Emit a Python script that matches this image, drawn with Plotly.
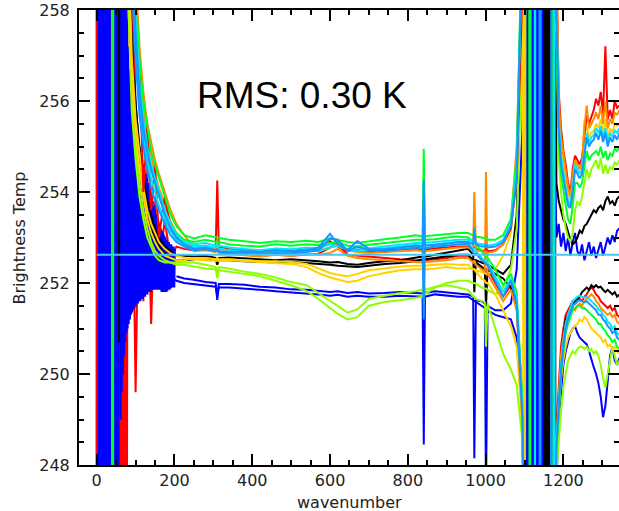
import plotly.graph_objects as go

# ---------------------------------------------------------------------------
# Wavenumber grids shared by the spectra
# ---------------------------------------------------------------------------
MID_WN = [80, 90, 100, 110, 120, 130, 140, 150, 160, 175, 190, 205, 225,
          250, 280, 306, 310, 314, 340, 380, 420, 460, 500, 540, 570, 600, 620,
          645, 670, 700, 740, 780, 820, 838, 841, 844, 870, 900, 930,
          955, 968, 971, 975, 990, 998, 1001, 1005, 1025, 1045, 1065, 1080, 1095]
TAIL_WN = [1182, 1188, 1194, 1200, 1206, 1212, 1218, 1224, 1230, 1236, 1242,
           1248, 1254, 1260, 1266, 1272, 1278, 1284, 1290, 1296, 1302, 1308,
           1314, 1320, 1326, 1332, 1338, 1344]

# Reference brightness temperature (horizontal line)
REF_WN = [0, 1345]
REF_T = [252.62, 252.62]

# ---------------------------------------------------------------------------
# Brightness temperature spectra (K)
# ---------------------------------------------------------------------------
RED_A_LEFT_WN = [-0.5, 0.0, 0.5]
RED_A_LEFT_T = [264, 244, 264]
RED_A_T = [262.0, 258.5, 256.5, 257.0, 254.0, 255.5, 253.6, 254.6, 253.0, 253.9, 253.2, 253.0, 252.85,
           252.8, 252.82, 252.75, 254.25, 252.78, 252.75, 252.72, 252.7, 252.72, 252.7, 252.74, 252.72, 252.92,
           252.8, 252.7, 252.72, 252.7, 252.72, 252.74, 252.76, 252.74, 252.9, 252.74, 252.76, 252.78, 252.8,
           252.8, 252.78, 252.78, 252.75, 252.72, 252.7, 252.75, 252.7, 252.72, 252.85, 253.2, 254.3, 258.6]
RED_A_BURST_WN = [1100]
RED_A_BURST_T = [262]
RED_A_TAIL = [259.0, 256.2, 255.4, 254.9, 254.6, 254.2, 254.0, 254.5, 254.8, 254.7, 254.6, 254.75, 255.2, 255.7,
              255.5, 255.65, 255.8, 256.05, 255.9, 256.2, 255.7, 257.2, 255.6, 255.8, 255.6, 256.0, 255.85, 255.9]

RED_B_LEFT_WN = [55, 56.5, 58, 59.5, 61, 62.5, 64, 65.5, 67, 68.5, 70, 71.5, 73, 74.5, 76, 77.5, 79]
RED_B_LEFT_T = [264, 244, 264, 244, 264, 244, 264, 244, 264, 244, 264, 244, 264, 244, 264, 244, 264]
RED_B_T = [262.5, 256.0, 249.6, 255.0, 251.6, 254.5, 251.1, 253.9, 252.2, 253.4, 252.5, 252.8, 252.75,
           252.72, 252.75, 252.7, 252.9, 252.68, 252.65, 252.62, 252.6, 252.62, 252.6, 252.62, 252.64, 252.78,
           252.85, 252.62, 252.6, 252.58, 252.55, 252.52, 252.5, 252.5, 252.6, 252.5, 252.52, 252.55, 252.6,
           252.6, 252.5, 252.5, 252.45, 252.35, 252.3, 252.3, 252.3, 252.0, 251.7, 251.95, 251.5, 249.0]
RED_B_BURST_WN = [1100]
RED_B_BURST_T = [244]
RED_B_TAIL = [248.8, 249.8, 250.6, 251.0, 251.3, 251.4, 251.5, 251.6, 251.55, 251.6, 251.65, 251.6, 251.7, 251.75,
              251.85, 251.9, 251.85, 251.75, 251.7, 251.6, 251.55, 251.5, 251.45, 251.5, 251.4, 251.45, 251.3, 251.25]

ORANGE_A_LEFT_WN = [39.0, 39.6, 40.2]
ORANGE_A_LEFT_T = [264, 244, 264]
ORANGE_A_T = [264.0, 261.0, 258.8, 257.2, 256.2, 255.5, 255.1, 254.7, 254.4, 254.0, 253.6, 253.3, 253.05,
              252.78, 252.8, 252.74, 252.95, 252.74, 252.72, 252.7, 252.66, 252.7, 252.68, 252.72, 252.7, 252.78,
              252.88, 252.72, 252.68, 252.66, 252.68, 252.7, 252.72, 252.7, 252.75, 252.7, 252.72, 252.75, 252.78,
              252.78, 252.75, 254.0, 252.72, 252.7, 252.68, 252.7, 252.66, 252.7, 252.85, 253.3, 255.0, 259.5]
ORANGE_A_BURST_WN = [1100]
ORANGE_A_BURST_T = [262]
ORANGE_A_TAIL = [259.5, 256.0, 255.2, 254.8, 254.5, 254.1, 253.9, 254.4, 254.7, 254.6, 254.5, 254.65, 255.4, 255.9,
                 255.4, 255.5, 255.6, 255.75, 255.6, 255.9, 255.5, 256.0, 255.4, 255.6, 255.5, 255.75, 255.7, 255.8]

ORANGE_B_T = [263.0, 260.0, 258.0, 256.6, 255.8, 255.2, 254.8, 254.4, 254.1, 253.7, 253.35, 253.1, 252.9,
              252.7, 252.72, 252.68, 252.8, 252.66, 252.64, 252.6, 252.58, 252.62, 252.6, 252.64, 252.62, 252.66,
              252.75, 252.6, 252.55, 252.52, 252.5, 252.48, 252.46, 252.45, 252.5, 252.46, 252.48, 252.5, 252.55,
              252.55, 252.45, 252.5, 252.4, 252.3, 252.25, 254.44, 252.2, 251.9, 251.6, 251.85, 251.4, 248.8]
ORANGE_B_BURST_WN = [1100]
ORANGE_B_BURST_T = [244]
ORANGE_B_TAIL = [248.6, 249.6, 250.4, 250.8, 251.1, 251.25, 251.35, 251.45, 251.4, 251.5, 251.55, 251.5, 251.6, 251.65,
                 251.7, 251.75, 251.7, 251.6, 251.55, 251.45, 251.4, 251.35, 251.3, 251.35, 251.25, 251.3, 251.15, 251.1]

YELLOW_A_T = [260.0, 257.0, 255.6, 254.8, 254.1, 253.6, 253.3, 253.1, 252.9, 252.75, 252.65, 252.6, 252.55,
              252.52, 252.5, 252.48, 252.5, 252.48, 252.5, 252.48, 252.45, 252.44, 252.42, 252.35, 252.22, 252.12,
              252.08, 252.02, 252.05, 252.15, 252.22, 252.28, 252.3, 252.3, 252.35, 252.3, 252.32, 252.35, 252.32,
              252.32, 252.3, 252.3, 252.28, 252.25, 252.22, 252.2, 252.2, 252.3, 252.6, 253.1, 254.6, 259.5]
YELLOW_A_BURST_WN = [1098, 1099, 1100]
YELLOW_A_BURST_T = [244, 262, 262]
YELLOW_A_TAIL = [259.0, 255.8, 255.0, 254.6, 254.3, 254.0, 253.8, 254.2, 254.6, 254.5, 254.4, 254.5, 255.6, 255.4,
                 255.2, 255.3, 255.35, 255.5, 255.4, 255.6, 255.3, 255.6, 255.2, 255.4, 255.3, 255.5, 255.45, 255.5]

YELLOW_B_T = [259.5, 256.6, 255.3, 254.5, 253.9, 253.4, 253.1, 252.9, 252.75, 252.6, 252.55, 252.5, 252.5,
              252.55, 252.55, 252.52, 252.55, 252.52, 252.52, 252.5, 252.48, 252.48, 252.46, 252.42, 252.32, 252.22,
              252.18, 252.15, 252.2, 252.28, 252.32, 252.36, 252.38, 252.38, 252.42, 252.38, 252.4, 252.42, 252.4,
              252.4, 252.3, 252.3, 252.25, 252.1, 252.05, 252.0, 252.0, 251.75, 251.4, 251.05, 250.6, 248.8]
YELLOW_B_BURST_WN = [1100]
YELLOW_B_BURST_T = [244]
YELLOW_B_TAIL = [248.2, 249.2, 249.9, 250.3, 250.6, 250.8, 250.9, 251.0, 251.05, 251.1, 251.2, 251.15, 251.25, 251.2,
                 251.1, 251.0, 250.95, 250.9, 250.85, 250.8, 250.7, 250.75, 250.6, 250.65, 250.55, 250.6, 250.5, 250.45]

LIME_A_T = [259.0, 256.2, 255.0, 254.2, 253.6, 253.2, 252.9, 252.7, 252.6, 252.5, 252.45, 252.4, 252.4,
            252.36, 252.32, 252.3, 252.1, 252.28, 252.25, 252.2, 252.15, 252.05, 251.95, 251.82, 251.65, 251.45,
            251.32, 251.2, 251.25, 251.5, 251.58, 251.62, 251.68, 251.7, 251.9, 251.75, 251.9, 252.0, 252.05,
            252.05, 252.0, 252.0, 251.98, 251.9, 251.88, 251.88, 251.85, 251.75, 251.9, 252.3, 253.2, 257.5]
LIME_A_BURST_WN = [1101, 1102, 1103]
LIME_A_BURST_T = [244, 262, 262]
LIME_A_TAIL = [257.5, 254.8, 254.0, 253.5, 253.2, 253.0, 252.9, 253.1, 253.6, 253.8, 253.7, 253.9, 254.2, 254.5,
               254.3, 254.5, 254.6, 254.7, 254.5, 254.75, 254.4, 254.6, 254.4, 254.55, 254.5, 254.65, 254.6, 254.7]

LIME_B_T = [258.5, 255.8, 254.7, 253.9, 253.4, 253.0, 252.8, 252.6, 252.5, 252.45, 252.45, 252.45, 252.45,
            252.45, 252.4, 252.35, 252.2, 252.35, 252.32, 252.25, 252.2, 252.12, 252.02, 251.95, 251.78, 251.6,
            251.48, 251.35, 251.42, 251.65, 251.72, 251.78, 251.82, 251.85, 252.0, 251.85, 251.92, 251.95, 251.9,
            251.85, 251.7, 251.7, 251.65, 251.6, 251.58, 250.6, 251.55, 251.0, 250.45, 250.1, 249.75, 248.5]
LIME_B_BURST_WN = [1100]
LIME_B_BURST_T = [244]
LIME_B_TAIL = [247.8, 248.6, 249.2, 249.7, 250.0, 250.3, 250.4, 250.5, 250.45, 250.55, 250.6, 250.6, 250.55, 250.6,
               250.5, 250.55, 250.45, 250.5, 250.4, 250.2, 249.9, 249.7, 250.0, 250.3, 250.6, 250.4, 250.2, 250.3]

GREEN_A_T = [263.5, 260.5, 258.4, 256.9, 256.0, 255.4, 254.9, 254.6, 254.3, 253.9, 253.5, 253.25, 253.05,
             252.98, 253.05, 253.0, 253.0, 253.0, 252.95, 252.92, 252.88, 252.92, 252.9, 252.93, 252.9, 252.98,
             252.95, 252.9, 252.88, 252.92, 252.96, 253.0, 253.05, 253.02, 254.95, 253.03, 253.05, 253.08, 253.1,
             253.1, 253.05, 253.05, 253.02, 253.0, 252.98, 252.98, 252.95, 252.95, 253.05, 253.4, 254.8, 259.0]
GREEN_A_BURST_WN = [1100, 1112, 1113, 1114, 1115, 1116]
GREEN_A_BURST_T = [262, 262, 244, 262, 244, 262]
GREEN_A_TAIL = [258.0, 255.2, 254.4, 254.0, 253.7, 253.4, 253.3, 253.7, 254.2, 254.2, 254.1, 254.2, 254.6, 254.9,
                254.7, 254.8, 254.85, 254.9, 254.8, 255.0, 254.75, 254.9, 254.7, 254.85, 254.8, 254.95, 254.9, 255.0]

GREEN_B_LEFT_WN = [41.5, 42.1, 42.7]
GREEN_B_LEFT_T = [264, 244, 264]
GREEN_B_T = [262.0, 259.5, 257.5, 256.2, 255.5, 254.9, 254.5, 254.2, 253.9, 253.6, 253.3, 253.1, 252.95,
             252.9, 252.95, 252.9, 252.92, 252.9, 252.85, 252.82, 252.8, 252.85, 252.82, 252.85, 252.83, 252.88,
             252.9, 252.82, 252.8, 252.84, 252.88, 252.92, 252.95, 252.95, 253.3, 252.95, 252.96, 253.0, 253.02,
             253.0, 252.9, 252.9, 252.85, 252.7, 252.6, 252.6, 252.55, 252.3, 251.95, 252.2, 251.8, 249.3]
GREEN_B_BURST_WN = [1100, 1172, 1173, 1174]
GREEN_B_BURST_T = [244, 244, 262, 244]
GREEN_B_TAIL = [248.3, 249.3, 250.0, 250.5, 250.9, 251.1, 251.25, 251.4, 251.45, 251.5, 251.5, 251.45, 251.45, 251.4,
                251.35, 251.3, 251.25, 251.2, 251.1, 251.1, 251.0, 250.95, 250.85, 250.8, 250.7, 250.75, 250.6, 250.55]

CYAN_A_T = [262.5, 259.8, 257.8, 256.4, 255.6, 255.0, 254.6, 254.3, 254.0, 253.6, 253.3, 253.05, 252.9,
            252.85, 252.88, 252.82, 252.85, 252.82, 252.78, 252.75, 252.72, 252.76, 252.74, 252.78, 252.76, 252.85,
            252.8, 252.75, 252.78, 252.76, 252.8, 252.84, 252.88, 252.88, 253.5, 252.88, 252.9, 252.92, 252.95,
            252.95, 252.9, 252.9, 252.88, 252.85, 252.85, 252.85, 252.82, 252.85, 252.95, 253.3, 254.5, 258.8]
CYAN_A_BURST_WN = [1100, 1126, 1127, 1128]
CYAN_A_BURST_T = [262, 262, 244, 262]
CYAN_A_TAIL = [258.5, 255.6, 254.8, 254.4, 254.1, 253.8, 253.7, 254.1, 254.6, 254.5, 254.4, 254.5, 254.9, 255.3,
               255.1, 255.2, 255.25, 255.4, 255.3, 255.45, 255.2, 255.4, 255.1, 255.3, 255.2, 255.35, 255.3, 255.4]

CYAN_B_T = [261.5, 259.0, 257.2, 255.9, 255.2, 254.7, 254.3, 254.0, 253.7, 253.4, 253.15, 252.95, 252.85,
            252.8, 252.82, 252.78, 252.8, 252.76, 252.72, 252.7, 252.68, 252.7, 252.68, 252.72, 252.7, 252.78,
            252.82, 252.72, 252.7, 252.72, 252.76, 252.8, 252.84, 252.82, 252.6, 252.82, 252.85, 252.88, 252.9,
            252.88, 252.75, 252.75, 252.7, 252.55, 252.5, 252.5, 252.45, 252.15, 251.8, 252.1, 251.65, 249.2]
CYAN_B_BURST_WN = [1100, 1176, 1177, 1178]
CYAN_B_BURST_T = [244, 244, 262, 244]
CYAN_B_TAIL = [248.5, 249.5, 250.2, 250.7, 251.1, 251.3, 251.45, 251.6, 251.65, 251.7, 251.72, 251.7, 251.68, 251.7,
               251.65, 251.6, 251.55, 251.5, 251.42, 251.4, 251.3, 251.25, 251.15, 251.1, 251.0, 251.05, 250.9, 250.85]

LBLUE_A_T = [262.0, 259.5, 257.5, 256.2, 255.4, 254.9, 254.5, 254.2, 253.9, 253.5, 253.2, 253.0, 252.85,
             252.75, 252.78, 252.72, 252.74, 252.7, 252.68, 252.7, 252.68, 252.72, 252.7, 252.72, 252.78, 253.08,
             252.85, 252.72, 252.92, 252.75, 252.74, 252.78, 252.82, 252.8, 254.25, 252.82, 252.84, 252.86, 252.9,
             252.9, 252.85, 253.2, 252.85, 252.8, 252.8, 252.85, 252.78, 252.8, 252.9, 253.25, 254.3, 258.5]
LBLUE_A_BURST_WN = [1100, 1138, 1139, 1140, 1141, 1142]
LBLUE_A_BURST_T = [262, 262, 244, 262, 244, 262]
LBLUE_A_TAIL = [258.0, 255.4, 254.6, 254.3, 254.0, 253.7, 253.65, 254.0, 254.5, 254.4, 254.3, 254.4, 254.8, 255.2,
                255.0, 255.1, 255.15, 255.3, 255.15, 255.35, 255.1, 255.3, 255.0, 255.2, 255.1, 255.25, 255.15, 255.3]

LBLUE_B_T = [261.0, 258.7, 256.9, 255.7, 255.0, 254.5, 254.1, 253.8, 253.6, 253.3, 253.05, 252.9, 252.8,
             252.72, 252.74, 252.7, 252.72, 252.68, 252.65, 252.66, 252.64, 252.66, 252.65, 252.68, 252.72, 252.98,
             252.95, 252.7, 252.8, 252.72, 252.7, 252.74, 252.78, 252.76, 251.2, 252.76, 252.8, 252.82, 252.85,
             252.85, 252.7, 252.6, 252.65, 252.5, 252.45, 252.4, 252.4, 252.05, 251.7, 252.05, 251.55, 249.0]
LBLUE_B_BURST_WN = [1100, 1168, 1169, 1170]
LBLUE_B_BURST_T = [244, 244, 262, 244]
LBLUE_B_TAIL = [248.4, 249.4, 250.1, 250.6, 251.0, 251.2, 251.35, 251.5, 251.55, 251.6, 251.62, 251.6, 251.58, 251.6,
                251.55, 251.5, 251.45, 251.4, 251.3, 251.3, 251.2, 251.15, 251.05, 251.0, 250.9, 250.95, 250.8, 250.75]

BLACK_A_LEFT_WN = [57.0, 57.6, 58.2]
BLACK_A_LEFT_T = [264, 250.7, 264]
BLACK_A_T = [261.0, 257.5, 255.9, 255.0, 254.3, 253.8, 253.5, 253.2, 253.0, 252.8, 252.7, 252.6, 252.6,
             252.58, 252.6, 252.55, 252.5, 252.55, 252.56, 252.54, 252.52, 252.5, 252.52, 252.5, 252.48, 252.45,
             252.46, 252.42, 252.4, 252.44, 252.48, 252.5, 252.55, 252.58, 252.6, 252.58, 252.62, 252.66, 252.7,
             252.75, 252.62, 251.8, 252.5, 252.45, 252.42, 252.4, 252.4, 252.3, 252.2, 252.4, 253.5, 258.5]
BLACK_A_BURST_WN = [1100, 1150, 1152, 1154, 1156, 1158, 1160, 1162, 1164, 1166, 1168, 1170, 1172, 1174, 1176, 1178]
BLACK_A_BURST_T = [262, 262, 244, 262, 244, 262, 244, 262, 244, 262, 244, 262, 244, 262, 244, 262]
BLACK_A_TAIL = [254.2, 253.8, 253.6, 253.4, 253.3, 253.1, 252.95, 252.85, 252.9, 253.0, 253.15, 253.1, 253.25, 253.3,
                253.4, 253.5, 253.6, 253.55, 253.65, 253.7, 253.6, 253.8, 253.9, 253.75, 253.8, 253.7, 253.85, 253.9]

BLACK_B_T = [259.0, 256.5, 255.3, 254.5, 253.9, 253.5, 253.2, 253.0, 252.8, 252.65, 252.55, 252.5, 252.5,
             252.52, 252.55, 252.5, 252.4, 252.5, 252.5, 252.48, 252.46, 252.45, 252.46, 252.44, 252.42, 252.4,
             252.38, 252.36, 252.35, 252.38, 252.42, 252.44, 252.48, 252.52, 252.55, 252.52, 252.55, 252.6, 252.62,
             252.62, 252.5, 252.5, 252.45, 252.35, 252.3, 251.5, 252.28, 252.2, 252.1, 251.9, 251.5, 249.3]
BLACK_B_BURST_WN = [1100, 1156, 1158, 1160, 1162, 1164, 1166, 1168, 1170, 1172, 1174, 1176, 1178, 1180]
BLACK_B_BURST_T = [244, 244, 262, 244, 262, 244, 262, 244, 262, 244, 262, 244, 262, 244]
BLACK_B_TAIL = [248.5, 249.5, 250.3, 250.8, 251.2, 251.3, 251.4, 251.5, 251.6, 251.65, 251.7, 251.8, 251.85, 251.9,
                251.85, 251.95, 251.9, 251.95, 251.9, 251.92, 251.85, 251.8, 251.85, 251.8, 251.75, 251.8, 251.7, 251.75]

BLUE_A_LEFT_WN = [60, 61.5, 63, 64.5, 66, 67.5, 69, 70.5, 72, 73.5, 75, 76.5, 78, 79.5, 81, 82.5, 84, 85.5,
                  87, 88.5, 90, 91.5, 93, 94.5, 96, 97.5, 99, 100.5, 102, 103.5, 105, 106.5, 108, 109.5, 111,
                  112.5, 114, 115.5, 117, 118.5, 120, 121.5, 123, 124.5, 126, 127.5, 129, 130.5, 132, 133.5,
                  135, 136.5, 138, 139.5, 141, 142.5, 144, 145.5, 147, 148.5, 150, 151.5, 153, 154.5, 156,
                  157.5, 159, 160.5, 162, 163.5, 165, 166.5, 168, 169.5, 171, 172.5, 174, 175.5, 177, 178.5,
                  180, 181.5, 183, 184.5, 186, 187.5, 189, 190.5, 192, 193.5, 195, 196.5, 198, 199.5, 201]
BLUE_A_LEFT_T = [264, 249.0, 263, 249.6, 261.5, 250.0, 260.3, 250.4, 259.3, 250.7, 258.5, 250.9, 257.8, 251.0,
                 257.2, 251.1, 256.7, 251.2, 256.3, 251.3, 256.0, 251.35, 255.75, 251.4, 255.55, 251.45, 255.4,
                 251.5, 255.25, 251.55, 255.1, 251.55, 255.0, 251.6, 254.9, 251.6, 254.8, 251.65, 254.7, 251.65,
                 254.6, 251.7, 254.5, 251.7, 254.4, 251.75, 254.3, 251.75, 254.2, 251.8, 254.1, 251.8, 254.0,
                 251.8, 253.9, 251.85, 253.8, 251.85, 253.7, 251.85, 253.6, 251.85, 253.5, 251.85, 253.4, 251.85,
                 253.35, 251.85, 253.3, 251.85, 253.2, 251.8, 253.15, 251.8, 253.1, 251.8, 253.05, 251.8, 253.0,
                 251.8, 252.95, 251.82, 252.9, 251.85, 252.9, 251.85, 252.85, 251.88, 252.85, 251.9, 252.8, 251.9,
                 252.8, 251.9, 252.75]
BLUE_A_T = [None, None, None, None, None, None, None, None, None, None, None, 252.15, 252.1,
            252.07, 252.02, 252.0, 251.63, 251.98, 251.98, 251.96, 251.92, 251.9, 251.86, 251.85, 251.82, 251.8,
            251.82, 251.78, 251.8, 251.77, 251.78, 251.8, 251.78, 251.77, 251.85, 251.78, 251.82, 251.8, 251.78,
            251.75, 251.7, 248.15, 251.62, 251.6, 251.55, 251.55, 251.5, 251.4, 251.4, 251.55, 252.3, 255.5]
BLUE_A_BURST_WN = [1100, 1102, 1104, 1106, 1108, 1110, 1112, 1114, 1116, 1118, 1120, 1122, 1124, 1126, 1128,
                   1130, 1132, 1134, 1136, 1138, 1140, 1142, 1144, 1146, 1148, 1150, 1152, 1154, 1156, 1158,
                   1160, 1162, 1164]
BLUE_A_BURST_T = [262, 244, 262, 244, 262, 244, 262, 244, 262, 244, 262, 244, 262, 244, 262,
                  244, 262, 244, 262, 244, 262, 244, 262, 244, 262, 244, 262, 244, 262, 244,
                  262, 244, 262]
BLUE_A_TAIL = [253.0, 253.3, 252.8, 253.1, 252.7, 253.0, 252.6, 252.9, 253.1, 252.7, 252.6, 252.85, 252.5, 252.7,
               252.9, 252.6, 252.8, 252.55, 252.75, 252.9, 252.6, 252.8, 253.0, 252.85, 253.05, 252.9, 253.15, 253.2]

BLUE_B_LEFT_WN = [0, 2, 4, 6, 8, 10, 12, 14, 16, 18, 20, 22, 24, 26, 28, 30, 32, 34, 36, 38, 40, 42, 44,
                  46, 48, 50, 52, 54, 56, 58]
BLUE_B_LEFT_T = [244, 264, 244, 264, 244, 264, 244, 264, 244, 264, 244, 264, 244, 264, 244, 264, 244, 264,
                 244, 264, 244, 264, 244, 264, 244, 264, 244, 264, 244, 264]
BLUE_B_T = [262.0, 258.0, 256.0, 254.8, 254.0, 253.4, 253.0, 252.7, 252.5, 252.3, 252.15, 252.05, 252.0,
            251.98, 251.95, 251.92, 251.7, 251.9, 251.9, 251.88, 251.85, 251.82, 251.8, 251.78, 251.75, 251.72,
            251.74, 251.7, 251.72, 251.7, 251.7, 251.72, 251.7, 251.7, 248.45, 251.7, 251.75, 251.72, 251.7,
            251.7, 251.62, 251.6, 251.58, 251.5, 251.45, 247.2, 251.4, 251.3, 251.25, 251.2, 250.8, 249.0]
BLUE_B_BURST_WN = [1100, 1102, 1104, 1106, 1108, 1110, 1112, 1114, 1116, 1118, 1120, 1122, 1124, 1126, 1128,
                   1130, 1132, 1134, 1136, 1138, 1140, 1142, 1144, 1146, 1148, 1150, 1152, 1154, 1156, 1158, 1160]
BLUE_B_BURST_T = [244, 262, 244, 262, 244, 262, 244, 262, 244, 262, 244, 262, 244, 262, 244,
                  262, 244, 262, 244, 262, 244, 262, 244, 262, 244, 262, 244, 262, 244, 262, 244]
BLUE_B_TAIL = [247.5, 249.0, 249.6, 250.2, 250.5, 250.7, 250.9, 251.0, 251.05, 250.9, 250.8, 250.75, 250.7, 250.65,
               250.5, 250.3, 250.15, 250.0, 249.8, 249.5, 249.05, 249.3, 249.8, 250.4, 250.6, 250.3, 250.2, 250.35]

RED = "#ff0000"
ORANGE = "#ff8c00"
YELLOW = "#ffd200"
LIME = "#8cff00"
GREEN = "#00ff28"
CYAN = "#00e6ff"
LBLUE = "#1496ff"
BLUE = "#0000ff"
BLACK = "#000000"
REF_COLOR = "#46c8f5"


def spectrum(mid_t, burst_wn, burst_t, tail_t, left_wn=(), left_t=()):
    wn = list(left_wn) + MID_WN + list(burst_wn) + TAIL_WN
    t = list(left_t) + list(mid_t) + list(burst_t) + list(tail_t)
    if len(wn) != len(t):
        raise ValueError("length mismatch")
    return wn, t


# drawing order: first entries are drawn underneath
SPECTRA = [
    (RED, spectrum(RED_B_T, RED_B_BURST_WN, RED_B_BURST_T, RED_B_TAIL, RED_B_LEFT_WN, RED_B_LEFT_T)),
    (BLUE, spectrum(BLUE_B_T, BLUE_B_BURST_WN, BLUE_B_BURST_T, BLUE_B_TAIL, BLUE_B_LEFT_WN, BLUE_B_LEFT_T)),
    (BLUE, spectrum(BLUE_A_T, BLUE_A_BURST_WN, BLUE_A_BURST_T, BLUE_A_TAIL, BLUE_A_LEFT_WN, BLUE_A_LEFT_T)),
    (BLACK, spectrum(BLACK_B_T, BLACK_B_BURST_WN, BLACK_B_BURST_T, BLACK_B_TAIL)),
    (BLACK, spectrum(BLACK_A_T, BLACK_A_BURST_WN, BLACK_A_BURST_T, BLACK_A_TAIL, BLACK_A_LEFT_WN, BLACK_A_LEFT_T)),
    (LIME, spectrum(LIME_B_T, LIME_B_BURST_WN, LIME_B_BURST_T, LIME_B_TAIL)),
    (LIME, spectrum(LIME_A_T, LIME_A_BURST_WN, LIME_A_BURST_T, LIME_A_TAIL)),
    (YELLOW, spectrum(YELLOW_B_T, YELLOW_B_BURST_WN, YELLOW_B_BURST_T, YELLOW_B_TAIL)),
    (YELLOW, spectrum(YELLOW_A_T, YELLOW_A_BURST_WN, YELLOW_A_BURST_T, YELLOW_A_TAIL)),
    (ORANGE, spectrum(ORANGE_B_T, ORANGE_B_BURST_WN, ORANGE_B_BURST_T, ORANGE_B_TAIL)),
    (RED, spectrum(RED_A_T, RED_A_BURST_WN, RED_A_BURST_T, RED_A_TAIL, RED_A_LEFT_WN, RED_A_LEFT_T)),
    (ORANGE, spectrum(ORANGE_A_T, ORANGE_A_BURST_WN, ORANGE_A_BURST_T, ORANGE_A_TAIL, ORANGE_A_LEFT_WN, ORANGE_A_LEFT_T)),
    (GREEN, spectrum(GREEN_B_T, GREEN_B_BURST_WN, GREEN_B_BURST_T, GREEN_B_TAIL, GREEN_B_LEFT_WN, GREEN_B_LEFT_T)),
    (GREEN, spectrum(GREEN_A_T, GREEN_A_BURST_WN, GREEN_A_BURST_T, GREEN_A_TAIL)),
    (CYAN, spectrum(CYAN_B_T, CYAN_B_BURST_WN, CYAN_B_BURST_T, CYAN_B_TAIL)),
    (CYAN, spectrum(CYAN_A_T, CYAN_A_BURST_WN, CYAN_A_BURST_T, CYAN_A_TAIL)),
    (LBLUE, spectrum(LBLUE_B_T, LBLUE_B_BURST_WN, LBLUE_B_BURST_T, LBLUE_B_TAIL)),
    (LBLUE, spectrum(LBLUE_A_T, LBLUE_A_BURST_WN, LBLUE_A_BURST_T, LBLUE_A_TAIL)),
]

fig = go.Figure()
for color, (wn, t) in SPECTRA:
    fig.add_trace(go.Scatter(x=wn, y=t, mode="lines", line=dict(color=color, width=2),
                             connectgaps=False, hoverinfo="skip", showlegend=False))

fig.add_trace(go.Scatter(x=REF_WN, y=REF_T, mode="lines", line=dict(color=REF_COLOR, width=2),
                         hoverinfo="skip", showlegend=False))

TICK_FONT = dict(family="DejaVu Sans", size=16, color="#222222")
axis_common = dict(showgrid=False, zeroline=False, showline=True, linecolor="black", linewidth=2,
                   mirror="allticks", ticks="inside", ticklen=11, tickwidth=2, tickcolor="black",
                   tickfont=TICK_FONT)

fig.update_xaxes(range=[-45.5, 1343], tick0=0, dtick=200, ticklabelstandoff=0,
                 minor=dict(dtick=50, ticks="inside", ticklen=5, tickwidth=2, tickcolor="black"),
                 **axis_common)
fig.update_yaxes(range=[248, 258], tick0=248, dtick=2, ticklabelstandoff=4,
                 minor=dict(dtick=0.5, ticks="inside", ticklen=5, tickwidth=2, tickcolor="black"),
                 **axis_common)

fig.add_annotation(x=529, y=256.13, xref="x", yref="y", text="RMS: 0.30 K", showarrow=False,
                   font=dict(family="Liberation Sans", size=37, color="black"),
                   xanchor="center", yanchor="middle")
fig.add_annotation(x=0.5, y=-0.083, xref="paper", yref="paper", text="wavenumber", showarrow=False,
                   font=dict(family="DejaVu Sans", size=16, color="#222222"),
                   xanchor="center", yanchor="middle")
fig.add_annotation(x=-0.111, y=0.498, xref="paper", yref="paper", text="Brightness Temp", showarrow=False,
                   textangle=-90, font=dict(family="DejaVu Sans", size=16, color="#222222"),
                   xanchor="center", yanchor="middle")

fig.update_layout(width=619, height=511, margin=dict(l=79, r=0, t=10, b=46, autoexpand=False),
                  plot_bgcolor="white", paper_bgcolor="white")

fig.write_html("out.html")
